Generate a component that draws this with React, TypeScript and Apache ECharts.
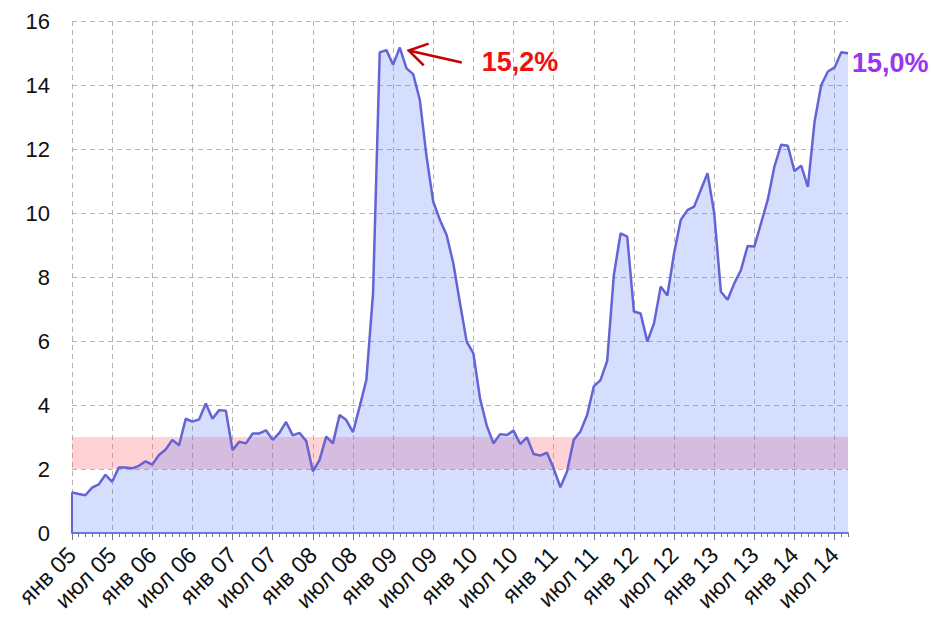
import React, { useEffect, useRef } from "react";
import * as echarts from "echarts";

const MONTHS = ["янв", "фев", "мар", "апр", "май", "июн", "июл", "авг", "сен", "окт", "ноя", "дек"];
const YEARS = ["05", "06", "07", "08", "09", "10", "11", "12", "13", "14"];

// monthly values, Jan 2005 .. Sep 2014
const VALUES = [
  1.27, 1.22, 1.18, 1.42, 1.52, 1.82, 1.6, 2.05, 2.05, 2.02, 2.1, 2.24,
  2.14, 2.44, 2.61, 2.91, 2.74, 3.57, 3.48, 3.55, 4.05, 3.57, 3.84, 3.82,
  2.59, 2.85, 2.8, 3.11, 3.11, 3.21, 2.91, 3.13, 3.47, 3.05, 3.13, 2.88,
  1.93, 2.28, 3.01, 2.8, 3.69, 3.53, 3.15, 3.95, 4.78, 7.49, 15.02, 15.09,
  14.63, 15.17, 14.52, 14.34, 13.53, 11.76, 10.35, 9.78, 9.31, 8.43, 7.18, 5.98,
  5.61, 4.2, 3.35, 2.8, 3.09, 3.06, 3.2, 2.78, 2.99, 2.47, 2.42, 2.51,
  2.02, 1.43, 1.92, 2.91, 3.17, 3.69, 4.58, 4.78, 5.38, 8.06, 9.36, 9.26,
  6.92, 6.86, 5.98, 6.55, 7.7, 7.42, 8.74, 9.78, 10.09, 10.2, 10.72, 11.24,
  10.0, 7.54, 7.29, 7.8, 8.22, 8.97, 8.95, 9.68, 10.41, 11.45, 12.13, 12.1,
  11.31, 11.48, 10.82, 12.85, 14.0, 14.42, 14.55, 15.02, 14.99,
];

const TARGET_BAND = [2, 3];
const PEAK_LABEL = "15,2%";
const LAST_LABEL = "15,0%";

const CATEGORIES: string[] = [];
for (let y = 0; y < YEARS.length; y++) {
  for (let m = 0; m < 12; m++) {
    if (CATEGORIES.length < VALUES.length) CATEGORIES.push(MONTHS[m] + " " + YEARS[y]);
  }
}

const FONT = "'Liberation Sans', Arial, sans-serif";
const LINE_COLOR = "#6464d6";
const GRID_COLOR = "#b4b4b4";

export default function App() {
  const ref = useRef<HTMLDivElement>(null);
  useEffect(() => {
    document.body.style.margin = "0";
    const chart = echarts.init(ref.current!, null, { renderer: "svg" });
    chart.setOption({
      animation: false,
      backgroundColor: "#ffffff",
      grid: { left: 72, right: 84, top: 21, bottom: 88 },
      xAxis: [
        {
          type: "category",
          data: CATEGORIES,
          boundaryGap: false,
          axisLine: { lineStyle: { color: "#7474d8", width: 2 } },
          axisTick: { interval: 0, length: 4, lineStyle: { color: "#777" } },
          axisLabel: {
            interval: 5,
            rotate: 45,
            fontSize: 23,
            color: "#111",
            fontFamily: FONT,
            margin: 18,
          },
          splitLine: { show: true, interval: 5, lineStyle: { color: GRID_COLOR, type: [5, 4] } },
        },
        {
          type: "category",
          data: CATEGORIES,
          boundaryGap: false,
          position: "bottom",
          axisLine: { show: false },
          axisTick: { interval: 5, length: 7, lineStyle: { color: "#777" } },
          axisLabel: { show: false },
          splitLine: { show: false },
        },
      ],
      yAxis: {
        type: "value",
        min: 0,
        max: 16,
        interval: 2,
        axisLine: { show: false },
        axisTick: { show: false },
        axisLabel: { fontSize: 22, color: "#111", fontFamily: FONT, margin: 22 },
        splitLine: { lineStyle: { color: GRID_COLOR, type: [5, 4] } },
      },
      series: [
        {
          type: "line",
          data: VALUES,
          showSymbol: false,
          lineStyle: { color: LINE_COLOR, width: 2.5 },
          areaStyle: { color: "rgba(90,122,250,0.36)" },
          markArea: {
            silent: true,
            itemStyle: { color: "rgba(255,110,120,0.3)" },
            data: [[{ yAxis: TARGET_BAND[0] }, { yAxis: TARGET_BAND[1] }]],
          },
          markLine: {
            silent: true,
            symbol: "none",
            label: { show: false },
            lineStyle: { color: LINE_COLOR, width: 2, type: "solid" },
            data: [[{ coord: [CATEGORIES[0], 0] }, { coord: [CATEGORIES[0], VALUES[0]] }]],
          },
        },
      ],
    });

    let peakIdx = 0;
    VALUES.forEach((v, i) => {
      if (v > VALUES[peakIdx]) peakIdx = i;
    });
    const lastIdx = VALUES.length - 1;
    const p = chart.convertToPixel({ seriesIndex: 0 }, [peakIdx, VALUES[peakIdx]]) as number[];
    const q = chart.convertToPixel({ seriesIndex: 0 }, [lastIdx, VALUES[lastIdx]]) as number[];
    const tip = [p[0] + 9, p[1] + 3];
    const ang = Math.atan2(12, 53);
    const armLen = 21;
    const a1 = [tip[0] + armLen * Math.cos(ang - 0.56), tip[1] + armLen * Math.sin(ang - 0.56)];
    const a2 = [tip[0] + armLen * Math.cos(ang + 0.56), tip[1] + armLen * Math.sin(ang + 0.56)];

    chart.setOption({
      graphic: [
        {
          type: "line",
          shape: { x1: tip[0] + 53, y1: tip[1] + 12, x2: tip[0] + 2, y2: tip[1] + 0.5 },
          style: { stroke: "#c40000", lineWidth: 2.6 },
          z: 100,
        },
        {
          type: "polyline",
          shape: { points: [a1, tip, a2] },
          style: { stroke: "#c40000", lineWidth: 2.6, fill: null },
          z: 100,
        },
        {
          type: "text",
          x: p[0] + 82,
          y: p[1] + 14,
          style: {
            text: PEAK_LABEL,
            fill: "#f01010",
            font: "bold 27px " + FONT,
            textAlign: "left",
            textVerticalAlign: "middle",
          },
          z: 100,
        },
        {
          type: "text",
          x: q[0] + 4,
          y: q[1] + 10,
          style: {
            text: LAST_LABEL,
            fill: "#9a34f0",
            font: "bold 27px " + FONT,
            textAlign: "left",
            textVerticalAlign: "middle",
          },
          z: 100,
        },
      ],
    });

    return () => chart.dispose();
  }, []);
  return (
    <div
      ref={ref}
      style={{ position: "fixed", left: 0, top: 0, width: 932, height: 621 }}
    />
  );
}
